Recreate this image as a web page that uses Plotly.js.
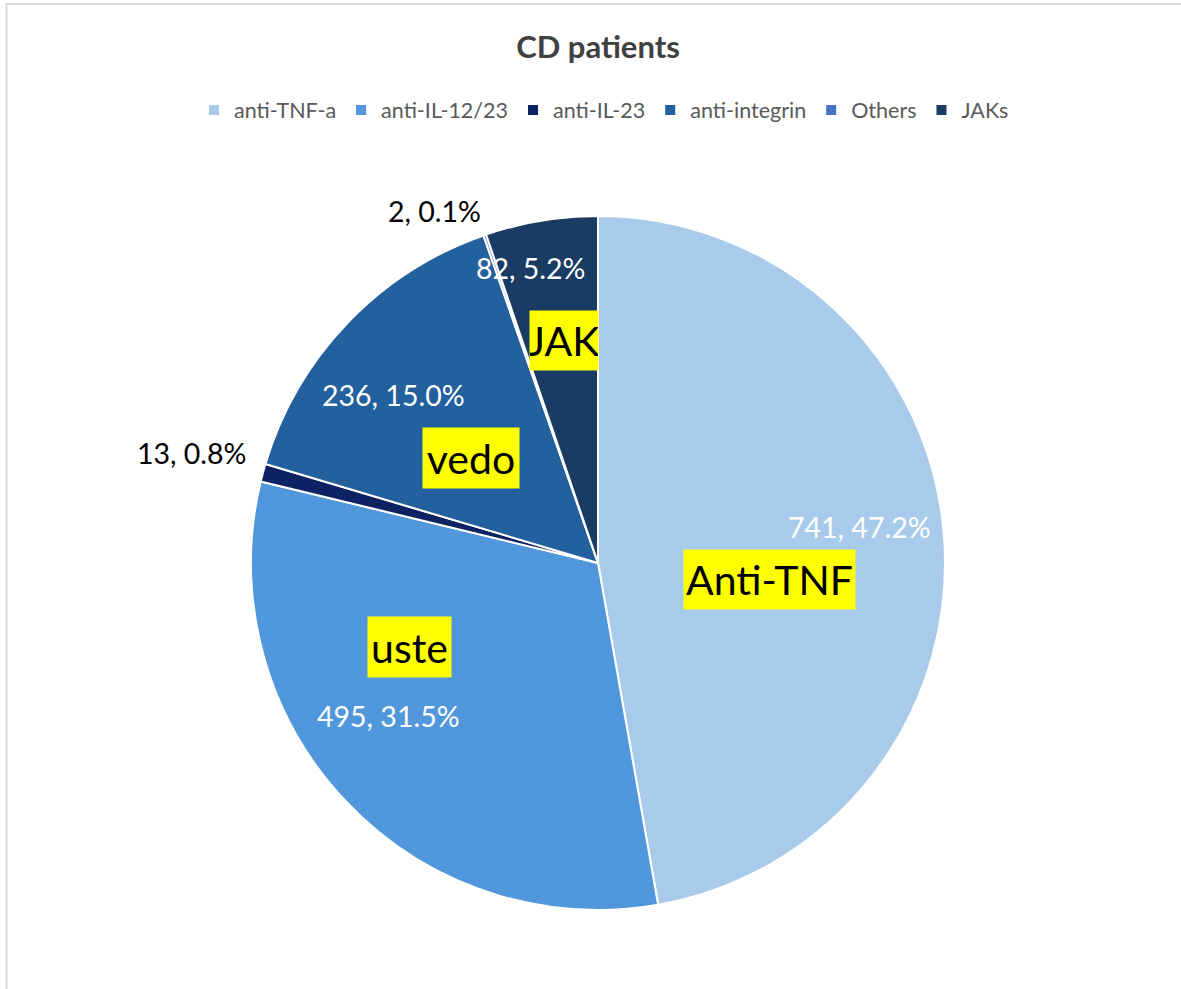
<!DOCTYPE html>
<html>
<head>
<meta charset="utf-8">
<script src="https://cdn.plot.ly/plotly-3.0.1.min.js"></script>
<style>
  html, body { margin: 0; padding: 0; background: #ffffff; }
  #chart { width: 1181px; height: 989px; }
</style>
</head>
<body>
<div id="chart"></div>
<script>
// ---- data ----
const categories = ["anti-TNF-a", "anti-IL-12/23", "anti-IL-23", "anti-integrin", "Others", "JAKs"];
const patients = [741, 495, 13, 236, 2, 82];
const drugNames = ["Anti-TNF", "uste", "vedo", "JAK"];

// ---- styles ----
const sliceColors = ["#A9CBEB", "#5097DB", "#0D2262", "#22609E", "#4472C4", "#1A3C64"];
const FONT = 'Lato, "Liberation Sans", "DejaVu Sans", sans-serif';
const W = 1181, H = 989;
const px = x => x / W;
const py = y => 1 - y / H;

const total = patients.reduce((a, b) => a + b, 0);
const labelText = patients.map(v => v + ", " + (v / total * 100).toFixed(1) + "%");

// label placement (page pixels) and colours, one per slice
const labelPos = [[859, 527], [388, 716], [192, 453], [393, 395], [434, 211], [530, 268]];
const labelColor = ["#ffffff", "#ffffff", "#000000", "#ffffff", "#000000", "#ffffff"];

// yellow call-out boxes (page pixels: center x, center y, width, height)
const boxPos = [[769.5, 579.5, 171, 59], [409.5, 647, 83, 60], [471, 458, 96, 60], [564, 340, 68, 59]];

const annotations = [];
labelText.forEach((t, i) => {
  annotations.push({
    text: t, xref: "paper", yref: "paper",
    x: px(labelPos[i][0]), y: py(labelPos[i][1]),
    xanchor: "center", yanchor: "middle", showarrow: false,
    font: { family: FONT, size: 28.5, color: labelColor[i] }
  });
});
drugNames.forEach((t, i) => {
  const b = boxPos[i];
  annotations.push({
    text: t, xref: "paper", yref: "paper",
    x: px(b[0]), y: py(b[1]), xanchor: "center", yanchor: "middle",
    width: b[2], height: b[3], borderpad: 0, align: "center", valign: "middle",
    bgcolor: "#FFFF00", showarrow: false,
    font: { family: FONT, size: 41, color: "#000000" }
  });
});

const trace = {
  type: "pie",
  labels: categories,
  values: patients,
  sort: false,
  direction: "clockwise",
  rotation: 0,
  textinfo: "none",
  hoverinfo: "label+value+percent",
  marker: { colors: sliceColors, line: { color: "#ffffff", width: 2 } },
  domain: { x: [px(251), px(945)], y: [py(910), py(216)] }
};

const layout = {
  width: W, height: H,
  margin: { l: 0, r: 0, t: 0, b: 0, autoexpand: false },
  paper_bgcolor: "#ffffff",
  font: { family: FONT },
  title: {
    text: "<b>CD patients</b>",
    x: px(598), xanchor: "center", xref: "paper",
    y: py(47), yanchor: "middle", yref: "paper",
    font: { family: FONT, size: 31, color: "#404040" }
  },
  showlegend: true,
  legend: {
    orientation: "h",
    x: px(604), xanchor: "center",
    y: py(110), yanchor: "middle",
    font: { family: FONT, size: 21.5, color: "#595959" },
    traceorder: "normal",
    bgcolor: "rgba(0,0,0,0)"
  },
  annotations: annotations,
  shapes: [
    { type: "line", xref: "paper", yref: "paper", x0: px(6.5), x1: px(6.5), y0: 0, y1: py(4),
      line: { color: "#D9D9D9", width: 2 } },
    { type: "line", xref: "paper", yref: "paper", x0: px(6), x1: 1, y0: py(4), y1: py(4),
      line: { color: "#D9D9D9", width: 2 } }
  ]
};

Plotly.newPlot("chart", [trace], layout, { displayModeBar: false, staticPlot: true });
</script>
</body>
</html>
